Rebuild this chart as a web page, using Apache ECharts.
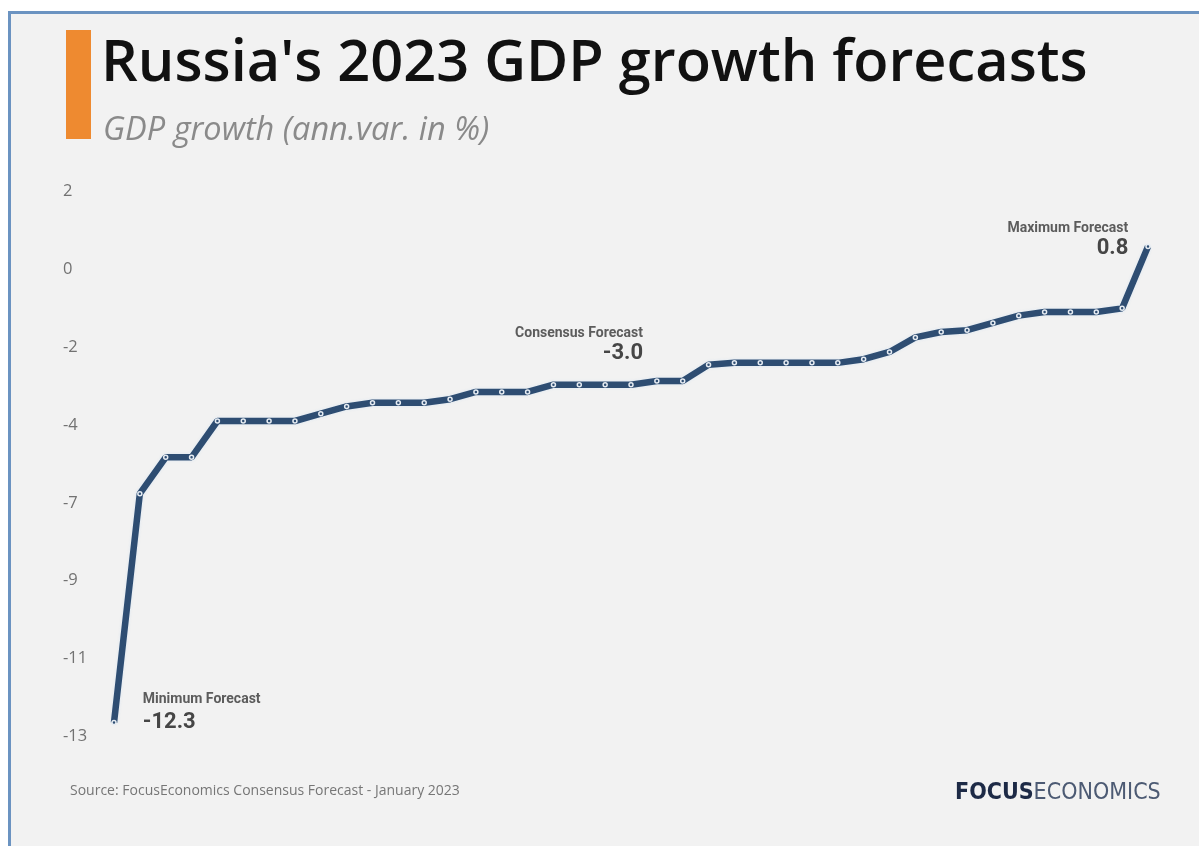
<!DOCTYPE html>
<html>
<head>
<meta charset="utf-8">
<title>Russia's 2023 GDP growth forecasts</title>
<script src="https://cdn.jsdelivr.net/npm/echarts@6/dist/echarts.min.js"></script>
<style>
  html, body { margin: 0; padding: 0; background: #ffffff; }
  #chart { width: 1199px; height: 846px; }
</style>
</head>
<body>
<div id="chart"></div>
<script>
// Individual panelists' 2023 GDP growth forecasts, sorted from lowest to highest
const forecasterRank = [
  1, 2, 3, 4, 5, 6, 7, 8, 9, 10, 11, 12, 13, 14, 15, 16, 17, 18, 19, 20, 21,
  22, 23, 24, 25, 26, 27, 28, 29, 30, 31, 32, 33, 34, 35, 36, 37, 38, 39, 40, 41
];
const gdpForecast = [
  -12.3, -6.0, -5.0, -5.0, -4.0, -4.0, -4.0, -4.0, -3.8, -3.6,
  -3.5, -3.5, -3.5, -3.4, -3.2, -3.2, -3.2, -3.0, -3.0, -3.0,
  -3.0, -2.9, -2.9, -2.45, -2.4, -2.4, -2.4, -2.4, -2.4, -2.3,
  -2.1, -1.7, -1.55, -1.5, -1.3, -1.1, -1.0, -1.0, -1.0, -0.9,
  0.8
];

// Value-axis ticks (eight evenly spaced rows from -13 to 2) and their printed labels
const yTickValues = [-13, -10.857, -8.714, -6.571, -4.429, -2.286, -0.143, 2];
const yTickLabels = ['-13', '-11', '-9', '-7', '-4', '-2', '0', '2'];

// Call-outs attached to particular forecasts
const calloutIndex = [0, 20, 40];
const calloutTitle = ['Minimum Forecast', 'Consensus Forecast', 'Maximum Forecast'];

const LINE_COLOR = '#2e4d72';

const calloutLabels = [
  { position: 'right', distance: 4, offset: [22, -10], align: 'left', gap: 23 },
  { position: 'top', distance: 18, offset: [12, 0], align: 'right', gap: 20 },
  { position: 'left', distance: 17, offset: [0, -8], align: 'right', gap: 20 }
];

const seriesData = gdpForecast.map(function (v, i) {
  const k = calloutIndex.indexOf(i);
  if (k < 0) return v;
  const cfg = calloutLabels[k];
  return {
    value: v,
    label: {
      show: true,
      position: cfg.position,
      distance: cfg.distance,
      offset: cfg.offset,
      align: cfg.align,
      formatter: '{t|' + calloutTitle[k] + '}\n{v|' + v.toFixed(1) + '}',
      rich: {
        t: {
          fontFamily: 'Roboto, Arial, sans-serif',
          fontSize: 14,
          fontWeight: 'bold',
          color: '#5c5c5c',
          align: cfg.align,
          lineHeight: 20
        },
        v: {
          fontFamily: 'Roboto, Arial, sans-serif',
          fontSize: 22,
          fontWeight: 'bold',
          color: '#464646',
          align: cfg.align,
          lineHeight: cfg.gap * 2 - 20
        }
      }
    }
  };
});

const chart = echarts.init(document.getElementById('chart'), null, { renderer: 'canvas' });

chart.setOption({
  backgroundColor: '#f2f2f2',
  animation: false,
  grid: { left: 114, right: 51, top: 203, bottom: 98 },
  xAxis: {
    type: 'category',
    data: forecasterRank,
    boundaryGap: false,
    show: false
  },
  yAxis: {
    type: 'value',
    min: -13,
    max: 2,
    axisLine: { show: false },
    axisTick: { show: false },
    splitLine: { show: false },
    axisLabel: {
      customValues: yTickValues,
      // the printed number sits one half-row above its tick
      formatter: function (value) {
        const i = yTickValues.indexOf(value);
        return i >= 0 ? yTickLabels[i] + '\n ' : '';
      },
      align: 'left',
      margin: 51,
      verticalAlign: 'middle',
      lineHeight: 23,
      fontFamily: '"Open Sans", sans-serif',
      fontSize: 16.5,
      color: '#727272'
    }
  },
  series: [{
    type: 'line',
    data: seriesData,
    showAllSymbol: true,
    symbol: 'circle',
    symbolSize: 4,
    itemStyle: {
      color: LINE_COLOR,
      borderColor: '#e6ecf3',
      borderWidth: 1.5
    },
    lineStyle: {
      color: LINE_COLOR,
      width: 6.5,
      shadowColor: 'rgba(215, 228, 242, 0.9)',
      shadowBlur: 3
    },
    label: { show: false },
    emphasis: { disabled: true },
    z: 3
  }],
  graphic: [
    // white margin and thin blue frame on the top and left edges
    { type: 'rect', left: 0, top: 0, shape: { width: 1199, height: 11 }, style: { fill: '#ffffff' }, silent: true },
    { type: 'rect', left: 0, top: 0, shape: { width: 8, height: 846 }, style: { fill: '#ffffff' }, silent: true },
    { type: 'rect', left: 8, top: 11, shape: { width: 1191, height: 3 }, style: { fill: '#6b93c1' }, silent: true },
    { type: 'rect', left: 8, top: 11, shape: { width: 3, height: 835 }, style: { fill: '#6b93c1' }, silent: true },
    // orange accent bar beside the heading
    { type: 'rect', left: 66, top: 30, shape: { width: 25, height: 109 }, style: { fill: '#ee8a30' }, silent: true },
    {
      type: 'text', left: 101, top: 36,
      style: {
        text: "Russia's 2023 GDP growth forecasts",
        font: '600 57.7px "Open Sans", sans-serif',
        fill: '#111111'
      },
      silent: true
    },
    {
      type: 'text', left: 103, top: 114,
      style: {
        text: 'GDP growth (ann.var. in %)',
        font: 'italic 32.5px "Open Sans", sans-serif',
        fill: '#8a8a8a'
      },
      silent: true
    },
    {
      type: 'text', left: 70, top: 784,
      style: {
        text: 'Source: FocusEconomics Consensus Forecast - January 2023',
        font: '14px "Open Sans", sans-serif',
        fill: '#767676'
      },
      silent: true
    },
    {
      type: 'text', left: 955, top: 782,
      style: {
        text: '{a|FOCUS}{b|ECONOMICS}',
        rich: {
          a: { font: 'bold 23px "Liberation Sans Narrow", "DejaVu Sans Condensed", sans-serif', fill: '#1d2a46' },
          b: { font: '23px "Liberation Sans Narrow", "DejaVu Sans Condensed", sans-serif', fill: '#4c5a73' }
        }
      },
      silent: true
    }
  ]
});
</script>
</body>
</html>
